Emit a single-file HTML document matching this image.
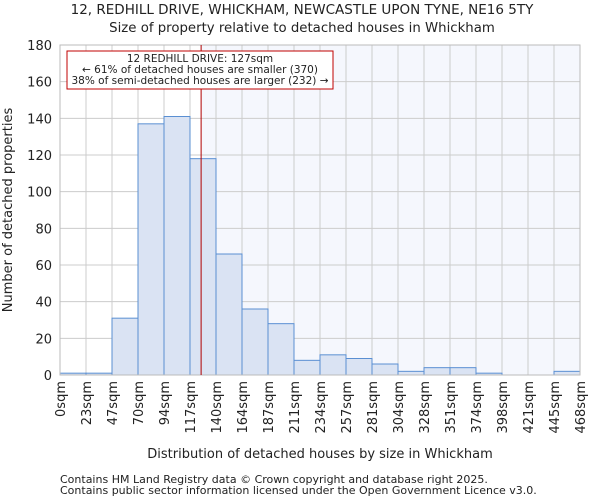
<!DOCTYPE html>
<html><head><meta charset="utf-8"><style>
body{margin:0;background:#fff;font-family:"DejaVu Sans","Liberation Sans",sans-serif;}
svg text{font-family:"DejaVu Sans","Liberation Sans",sans-serif;fill:#222;}
</style></head><body>
<svg id="chart" width="600" height="500" xmlns="http://www.w3.org/2000/svg">
<text x="302" y="14" font-size="13.5" text-anchor="middle">12, REDHILL DRIVE, WHICKHAM, NEWCASTLE UPON TYNE, NE16 5TY</text>
<text x="302" y="32" font-size="13.3" text-anchor="middle">Size of property relative to detached houses in Whickham</text>
<g id="grid"></g>
<g id="bars"></g>
<g id="axes"></g>
<text x="320" y="458" font-size="13" text-anchor="middle">Distribution of detached houses by size in Whickham</text>
<text transform="translate(12,210) rotate(-90)" font-size="13" text-anchor="middle">Number of detached properties</text>
<text x="60" y="483" font-size="11" fill="#444">Contains HM Land Registry data © Crown copyright and database right 2025.</text>
<text x="60" y="494" font-size="11" fill="#444">Contains public sector information licensed under the Open Government Licence v3.0.</text>
</svg>
<script>
const binLabels=["0sqm","23sqm","47sqm","70sqm","94sqm","117sqm","140sqm","164sqm","187sqm","211sqm","234sqm","257sqm","281sqm","304sqm","328sqm","351sqm","374sqm","398sqm","421sqm","445sqm","468sqm"];
const counts=[1,1,31,137,141,118,66,36,28,8,11,9,6,2,4,4,1,0,0,2];
const yTicks=[0,20,40,60,80,100,120,140,160,180];
const propertySize=127;
const xMax=468;
const NS="http://www.w3.org/2000/svg";
const L=60,R=580,T=45,B=375,yMax=180;
const n=counts.length;
const bw=(R-L)/n;
const xs=v=>L+v/xMax*(R-L);
const ys=v=>B-v/yMax*(B-T);
function mk(tag,attrs,parent){const e=document.createElementNS(NS,tag);for(const k in attrs)e.setAttribute(k,attrs[k]);parent.appendChild(e);return e;}
const grid=document.getElementById('grid'),bars=document.getElementById('bars'),axes=document.getElementById('axes');
const px=xs(propertySize);
const sh=mk('rect',{x:px,y:T,width:R-px,height:B-T,fill:'#f5f7fd'},grid);


yTicks.forEach(t=>{
 const l=mk('line',{x1:L,x2:R,y1:ys(t),y2:ys(t),stroke:'#ccc','stroke-width':1},grid);
 
 
 const tx=mk('text',{x:L-8,y:ys(t)+5,'font-size':13,'text-anchor':'end'},axes);
 tx.textContent=t;
 
 
});
for(let i=0;i<=n;i++){
 const x=L+i*bw;
 const l=mk('line',{x1:x,x2:x,y1:T,y2:B,stroke:'#ccc','stroke-width':1},grid);
 
 
 const tx=mk('text',{transform:`translate(${x+5},${B+6}) rotate(-90)`,'font-size':13,'text-anchor':'end'},axes);
 tx.textContent=binLabels[i];
 
 
}
counts.forEach((c,i)=>{
 if(c<=0)return;
 const r=mk('rect',{x:L+i*bw,y:ys(c),width:bw,height:B-ys(c),fill:'#dae3f3',stroke:'#5a8fd2','stroke-width':1},bars);
 
 
});
const ax=mk('rect',{x:L,y:T,width:R-L,height:B-T,fill:'none',stroke:'#bbb'},axes);


const vl=mk('line',{x1:px,x2:px,y1:T,y2:B,stroke:'#b00000','stroke-width':1},axes);


const box=mk('rect',{x:67,y:51,width:266,height:38,fill:'#fff',stroke:'#c00000','stroke-width':1},axes);


[["12 REDHILL DRIVE: 127sqm",62],["← 61% of detached houses are smaller (370)",73],["38% of semi-detached houses are larger (232) →",84]].forEach(([s,y])=>{
 const t=mk('text',{x:200,y:y,'font-size':10.5,'text-anchor':'middle'},axes);
 t.textContent=s;
 
 
});
</script>
</body></html>
